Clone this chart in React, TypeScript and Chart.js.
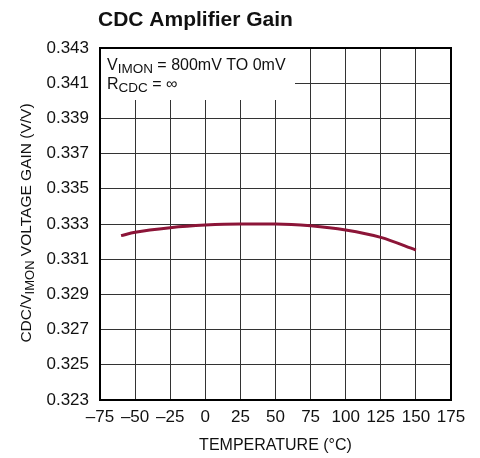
import { useEffect, useRef } from 'react';
import { Chart, registerables } from 'chart.js';

Chart.register(...registerables);

// ---- data ----
const TITLE = 'CDC Amplifier Gain';
const X_TITLE = 'TEMPERATURE (°C)';
const Y_TITLE_RUNS = [
  { text: 'CDC/V', sub: false },
  { text: 'IMON', sub: true },
  { text: ' VOLTAGE GAIN (V/V)', sub: false },
];
const NOTE_LINE1 = [
  { text: 'V', sub: false },
  { text: 'IMON', sub: true },
  { text: ' = 800mV TO 0mV', sub: false },
];
const NOTE_LINE2 = [
  { text: 'R', sub: false },
  { text: 'CDC', sub: true },
  { text: ' = ∞', sub: false },
];
const temperatures = [-60, -50, -25, 0, 25, 50, 75, 100, 125, 150];
const gain = [0.33234, 0.33253, 0.33279, 0.33294, 0.333, 0.333, 0.3329, 0.33266, 0.33224, 0.33152];
const X_MIN = -75;
const X_MAX = 175;
const X_STEP = 25;
const Y_MIN = 0.323;
const Y_MAX = 0.343;
const Y_STEP = 0.002;

const FONT = '"Liberation Sans", Arial, Helvetica, sans-serif';
const LINE_COLOR = '#8c1538';
const TEXT_COLOR = '#111';

type Run = { text: string; sub: boolean };

function runsWidth(ctx: CanvasRenderingContext2D, runs: Run[], main: string, sub: string) {
  let w = 0;
  for (const r of runs) {
    ctx.font = r.sub ? sub : main;
    w += ctx.measureText(r.text).width;
  }
  return w;
}

function drawRuns(ctx: CanvasRenderingContext2D, runs: Run[], x: number, y: number, main: string, sub: string, subOffset: number) {
  let cx = x;
  for (const r of runs) {
    ctx.font = r.sub ? sub : main;
    ctx.fillText(r.text, cx, r.sub ? y + subOffset : y);
    cx += ctx.measureText(r.text).width;
  }
}

export default function App() {
  const ref = useRef<HTMLCanvasElement>(null);

  useEffect(() => {
    const canvas = ref.current;
    if (!canvas) return;

    const decor = {
      id: 'decor',
      beforeDatasetsDraw(chart: any) {
        const { ctx, chartArea } = chart;
        ctx.save();
        ctx.fillStyle = '#fff';
        ctx.fillRect(chartArea.left + 1, chartArea.top + 1, 295 - chartArea.left - 1, 100 - chartArea.top - 1);
        ctx.restore();
      },
      afterDraw(chart: any) {
        const { ctx, chartArea } = chart;
        ctx.save();
        // frame
        ctx.strokeStyle = '#000';
        ctx.lineWidth = 2;
        ctx.strokeRect(chartArea.left, chartArea.top, chartArea.right - chartArea.left, chartArea.bottom - chartArea.top);

        ctx.fillStyle = TEXT_COLOR;
        ctx.textBaseline = 'alphabetic';
        ctx.textAlign = 'left';

        // title
        ctx.font = `bold 21px ${FONT}`;
        ctx.fillText(TITLE, 98, 26);

        // x title
        ctx.font = `16px ${FONT}`;
        ctx.textAlign = 'center';
        ctx.fillText(X_TITLE, (chartArea.left + chartArea.right) / 2, 450);
        ctx.textAlign = 'left';

        // y title
        const mainF = `15.5px ${FONT}`;
        const subF = `13px ${FONT}`;
        const w = runsWidth(ctx, Y_TITLE_RUNS, mainF, subF);
        ctx.translate(31, (chartArea.top + chartArea.bottom) / 2 - 1);
        ctx.rotate(-Math.PI / 2);
        drawRuns(ctx, Y_TITLE_RUNS, -w / 2, 0, mainF, subF, 3);
        ctx.setTransform(1, 0, 0, 1, 0, 0);

        // annotation
        const nMain = `16px ${FONT}`;
        const nSub = `13.5px ${FONT}`;
        drawRuns(ctx, NOTE_LINE1, 107, 70, nMain, nSub, 3);
        drawRuns(ctx, NOTE_LINE2, 107, 89, nMain, nSub, 3);
        ctx.restore();
      },
    };

    const chart = new Chart(canvas, {
      type: 'line',
      data: {
        datasets: [
          {
            data: temperatures.map((t, i) => ({ x: t, y: gain[i] })),
            borderColor: LINE_COLOR,
            borderWidth: 3,
            pointRadius: 0,
            fill: false,
            cubicInterpolationMode: 'monotone',
          },
        ],
      },
      options: {
        responsive: false,
        animation: false,
        devicePixelRatio: 1,
        layout: { padding: { left: 0, right: 29, top: 48, bottom: 0 } },
        plugins: {
          legend: { display: false },
          tooltip: { enabled: false },
          title: { display: false },
        },
        scales: {
          x: {
            type: 'linear',
            min: X_MIN,
            max: X_MAX,
            ticks: {
              stepSize: X_STEP,
              autoSkip: false,
              maxRotation: 0,
              padding: 7,
              color: TEXT_COLOR,
              font: { family: FONT, size: 17 },
              callback: (v: any) => (Number(v) < 0 ? '\u2013' + Math.abs(Number(v)) : String(v)),
            },
            grid: { color: '#333', lineWidth: 1, drawTicks: false },
            border: { color: '#000', width: 2 },
            afterFit: (s: any) => {
              s.height = 58;
            },
          },
          y: {
            type: 'linear',
            min: Y_MIN,
            max: Y_MAX,
            ticks: {
              stepSize: Y_STEP,
              autoSkip: false,
              padding: 11,
              color: TEXT_COLOR,
              font: { family: FONT, size: 17 },
              callback: (v: any) => Number(v).toFixed(3),
            },
            grid: { color: '#333', lineWidth: 1, drawTicks: false },
            border: { color: '#000', width: 2 },
            afterFit: (s: any) => {
              s.width = 100;
            },
          },
        },
      },
      plugins: [decor],
    } as any);

    return () => chart.destroy();
  }, []);

  return (
    <div style={{ position: 'absolute', left: 0, top: 0, width: 480, height: 458, background: '#fff' }}>
      <canvas ref={ref} width={480} height={458} style={{ display: 'block' }} />
    </div>
  );
}
